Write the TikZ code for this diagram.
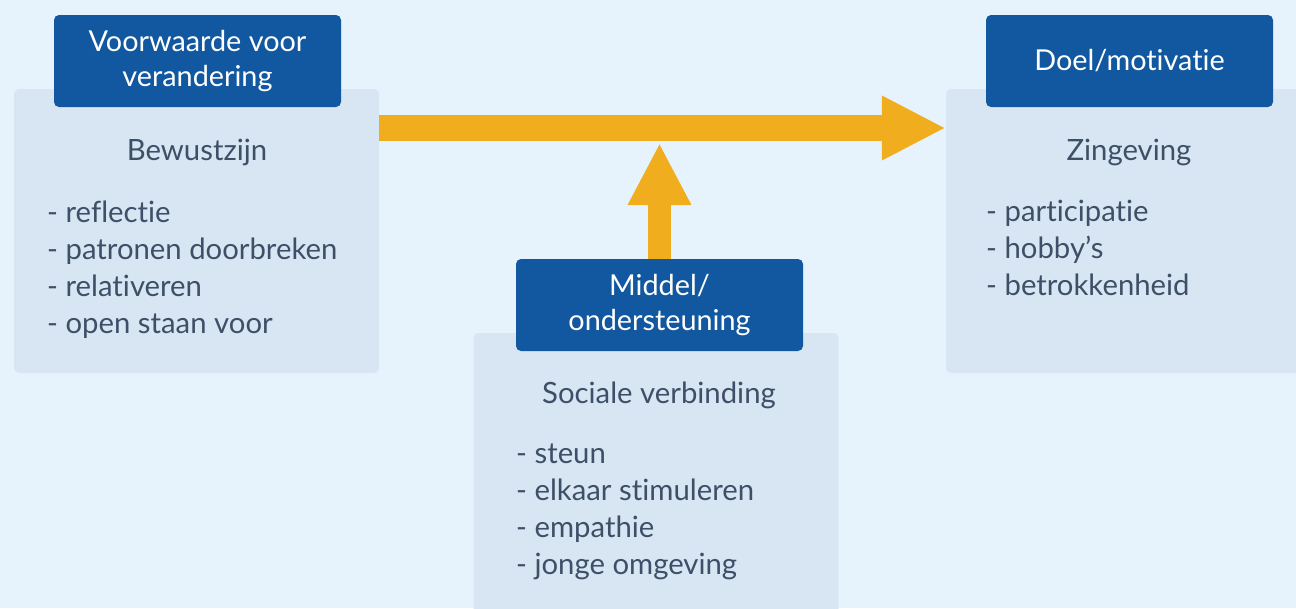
\documentclass[tikz,border=0pt]{standalone}
\usepackage{fontspec}
\setmainfont{Lato}[Ligatures={NoCommon,NoRequired,NoContextual}]
\usetikzlibrary{arrows.meta}
\definecolor{bg}{HTML}{E6F3FD}
\definecolor{lightbox}{HTML}{D8E6F3}
\definecolor{darkblue}{HTML}{1158A0}
\definecolor{flowor}{HTML}{F0AD1E}
\definecolor{txt}{HTML}{3E5068}
\pgfdeclarelayer{back}
\pgfdeclarelayer{mid}
\pgfsetlayers{back,mid,main}
\tikzset{
  lbox/.style={fill=lightbox, rounded corners=5pt, minimum width=365pt, minimum height=284pt, inner sep=0pt},
  hbox/.style={fill=darkblue, rounded corners=5pt, minimum width=287pt, minimum height=92pt, inner sep=0pt,
     text=white, font=\fontsize{28.8}{35.5}\selectfont, align=center},
  btitle/.style={text=txt, font=\fontsize{29.3}{36}\selectfont, inner sep=0pt},
  blist/.style={text=txt, font=\fontsize{29.3}{37}\selectfont, align=left, inner sep=0pt, anchor=north west},
  flow/.style={draw=flowor, line width=26pt, -{Triangle[length=64pt,width=60pt]}},
  vflow/.style={draw=flowor, line width=23pt, -{Triangle[length=62pt,width=59pt]}}
}
\begin{document}
\begin{tikzpicture}[x=1pt,y=-1pt]
\useasboundingbox (0,0) rectangle (1296,608);
\begin{pgfonlayer}{back}
\fill[bg] (0,0) rectangle (1296,608);
\end{pgfonlayer}
\begin{scope}
\clip (0,0) rectangle (1296,608);
% light boxes
\begin{pgfonlayer}{back}
\node[lbox] (lbox) at (196.5,231) {};
\node[lbox, minimum height=300pt] (mbox) at (656,483) {};
\node[lbox, minimum width=380pt] (rbox) at (1136,231) {};
\end{pgfonlayer}
% headers
\node[hbox] (lhead) at (197.5,61) {Voorwaarde voor\\verandering};
\node[hbox] (rhead) at (1129.5,61) {Doel/motivatie};
\node[hbox] (mhead) at (659.5,305) {Middel/\\ondersteuning};
% connectors
\coordinate (hy) at (0,128);
\coordinate (vy) at (0,143);
\begin{pgfonlayer}{mid}
\draw[flow] (lbox.east |- hy) -- (rbox.west |- hy);
\draw[vflow] (mhead.north) -- (mhead.north |- vy);
\end{pgfonlayer}
% titles
\node[btitle] (lt) at (197,152) {Bewustzijn};
\node[btitle] (mt) at (659,395) {Sociale verbinding};
\node[btitle] (rt) at (1129,152) {Zingeving};
% lists
\node[blist] (ll) at (47,201) {- reflectie\\- patronen doorbreken\\- relativeren\\- open staan voor};
\node[blist] (ml) at (516,444) {- steun\\- elkaar stimuleren\\- empathie\\- jonge omgeving};
\node[blist] (rl) at (986,200) {- participatie\\- hobby’s\\- betrokkenheid};
\end{scope}
\end{tikzpicture}
\end{document}
